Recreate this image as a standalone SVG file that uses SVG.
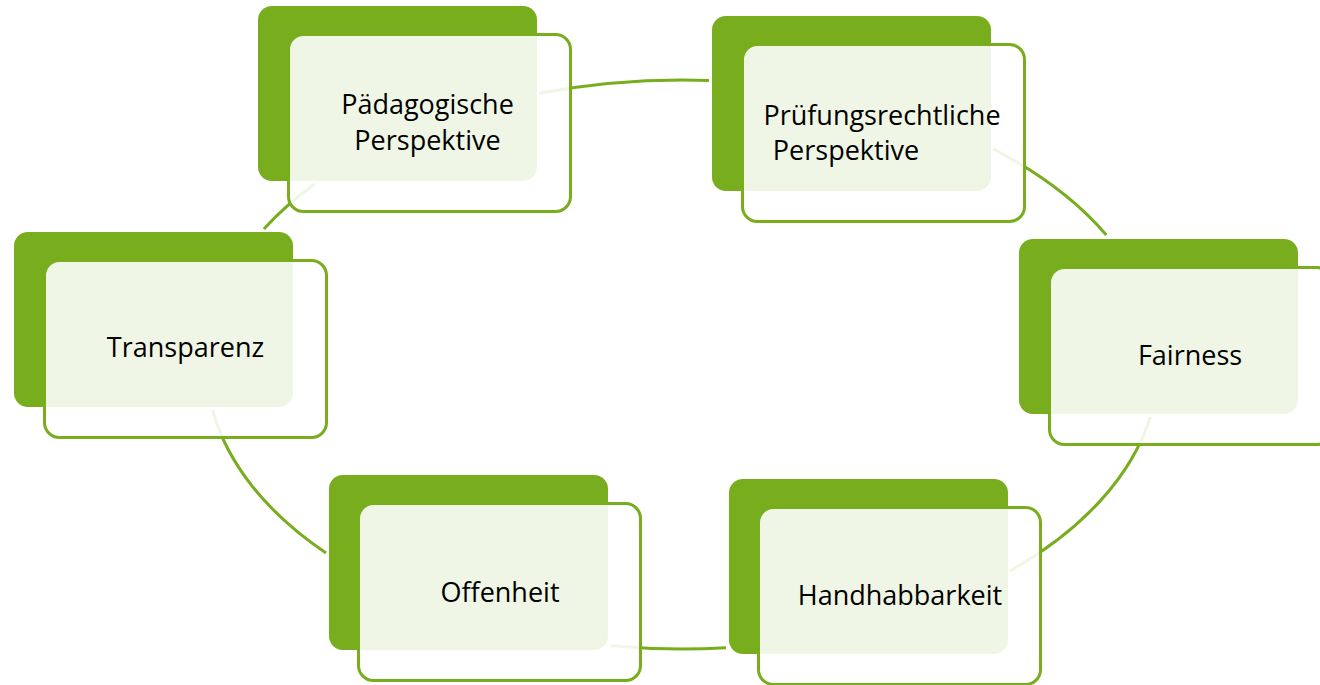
<svg xmlns="http://www.w3.org/2000/svg" width="1320" height="685" viewBox="0 0 1320 685">
<style>
.back{fill:#78ad1e;}
.front{fill:#ffffff;fill-opacity:0.89;stroke:#78ad1e;stroke-width:3;}
.arc{fill:none;stroke:#78ad1e;stroke-width:3;}
.lbl{font-family:"Open Sans","Noto Sans","Liberation Sans",sans-serif;font-size:27px;fill:#000;text-anchor:middle;}
</style>
<rect width="1320" height="685" fill="#ffffff"/>
<g id="connectors">
<path class="arc" d="M539,93.3 A476,284.5 0 0,1 709,80.4"/>
<path class="arc" d="M993,148.9 A476,284.5 0 0,1 1106.3,235"/>
<path class="arc" d="M1150.3,417 A476,284.5 0 0,1 1010,571"/>
<path class="arc" d="M726,647.8 A476,284.5 0 0,1 611,645.8"/>
<path class="arc" d="M326,553 A476,284.5 0 0,1 212.6,410"/>
<path class="arc" d="M263.9,229 A476,284.5 0 0,1 314.6,184"/>
</g>
<g id="node-paedagogische">
<rect class="back" x="258" y="6" width="279" height="175" rx="14"/>
<rect class="front" x="288.5" y="34.5" width="282" height="177" rx="15"/>
<text class="lbl" x="427.5" y="114">Pädagogische</text>
<text class="lbl" x="427.5" y="150">Perspektive</text>
</g>
<g id="node-pruefungsrechtliche">
<rect class="back" x="712" y="16" width="279" height="175" rx="14"/>
<rect class="front" x="742.5" y="44.5" width="282" height="177" rx="15"/>
<text class="lbl" x="882" y="125">Prüfungsrechtliche</text>
<text class="lbl" x="846" y="160">Perspektive</text>
</g>
<g id="node-fairness">
<rect class="back" x="1019" y="239" width="279" height="175" rx="14"/>
<rect class="front" x="1049.5" y="267.5" width="282" height="177" rx="15"/>
<text class="lbl" x="1190" y="365">Fairness</text>
</g>
<g id="node-handhabbarkeit">
<rect class="back" x="729" y="479" width="279" height="175" rx="14"/>
<rect class="front" x="758.5" y="507.5" width="282" height="177" rx="15"/>
<text class="lbl" x="900" y="605">Handhabbarkeit</text>
</g>
<g id="node-offenheit">
<rect class="back" x="329" y="475" width="279" height="175" rx="14"/>
<rect class="front" x="358.5" y="503.5" width="282" height="177" rx="15"/>
<text class="lbl" x="500" y="602">Offenheit</text>
</g>
<g id="node-transparenz">
<rect class="back" x="14" y="232" width="279" height="175" rx="14"/>
<rect class="front" x="44.5" y="260.5" width="282" height="177" rx="15"/>
<text class="lbl" x="185.5" y="357">Transparenz</text>
</g>
</svg>
